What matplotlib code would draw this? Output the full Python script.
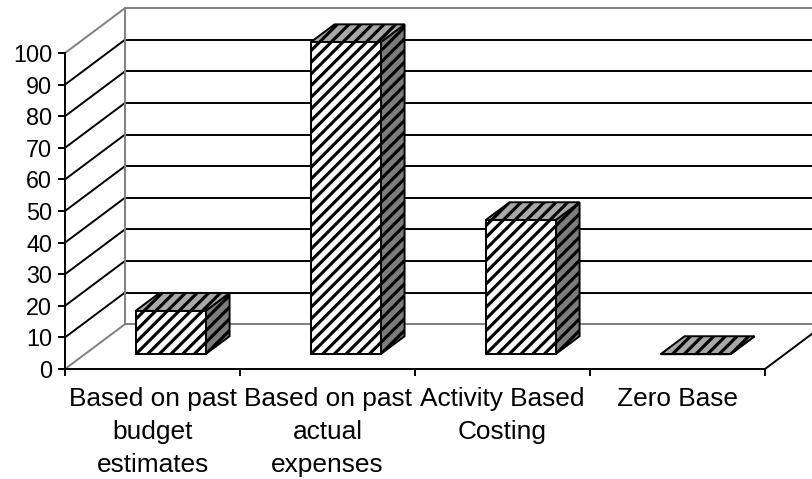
import matplotlib
matplotlib.use("Agg")
import matplotlib.pyplot as plt
from matplotlib.patches import Polygon

plt.rcParams['font.family'] = ['Liberation Sans', 'DejaVu Sans']
plt.rcParams['hatch.linewidth'] = 1.6

categories = [
    "Based on past\nbudget\nestimates",
    "Based on past\nactual\nexpenses",
    "Activity Based\nCosting",
    "Zero Base",
]
values = [13.7, 98.7, 42.4, 0]
y_ticks = list(range(0, 101, 10))

DPI = 140
fig = plt.figure(figsize=(812 / DPI, 479 / DPI), dpi=DPI)
ax = fig.add_axes([65 / 812, 110 / 479, 700 / 812, 316 / 479])
ax.set_xlim(0, len(categories))
ax.set_ylim(0, 100)
ax.set_facecolor('none')

# oblique depth vector (data units) for the pseudo-3D walls and columns
DX, DY = 0.343, 14.2


def shift(x, y, d):
    return (x + d * DX, y + d * DY)


GRAY = '#808080'
LW = 1.0
n = len(categories)

# side wall and back wall gridlines
for v in y_ticks:
    c = GRAY if v in (0, 100) else 'black'
    ax.plot([0, DX], [v, v + DY], color=c, lw=LW, clip_on=False, zorder=1,
            solid_capstyle='butt')
    ax.plot([DX, n + DX], [v + DY, v + DY], color=c, lw=LW, clip_on=False,
            zorder=1, solid_capstyle='butt')
ax.plot([DX, DX], [DY, 100 + DY], color=GRAY, lw=LW, clip_on=False, zorder=1)
ax.plot([n, n + DX], [0, DY], color='black', lw=LW, clip_on=False, zorder=1)

# columns
D0, D1 = 0.33, 0.73
W = 0.4
FRONT, TOP, SIDE = 'white', '#a8a8a8', '#7c7c7c'
for i, v in enumerate(values):
    x0 = i + 0.29
    x1 = x0 + W
    front = [shift(x0, 0, D0), shift(x1, 0, D0), shift(x1, v, D0), shift(x0, v, D0)]
    top = [shift(x0, v, D0), shift(x1, v, D0), shift(x1, v, D1), shift(x0, v, D1)]
    side = [shift(x1, 0, D0), shift(x1, 0, D1), shift(x1, v, D1), shift(x1, v, D0)]
    for pts, fc in ((side, SIDE), (top, TOP), (front, FRONT)):
        ax.add_patch(Polygon(pts, closed=True, facecolor=fc, edgecolor='black',
                             hatch='////', lw=1.0, clip_on=False, zorder=3))

for s in ('top', 'right'):
    ax.spines[s].set_visible(False)
for s in ('left', 'bottom'):
    ax.spines[s].set_linewidth(LW)
    ax.spines[s].set_color('black')

ax.set_yticks(y_ticks)
ax.tick_params(axis='y', direction='out', length=3.6, width=LW, pad=3,
               labelsize=12)
ax.set_xticks(range(n + 1))
ax.set_xticklabels([])
ax.tick_params(axis='x', which='major', direction='out', length=3.6, width=LW)
ax.set_xticks([i + 0.5 for i in range(n)], minor=True)
ax.set_xticklabels(categories, minor=True)
ax.tick_params(axis='x', which='minor', length=0, pad=9.5, labelsize=13.5)
for lbl in ax.get_xticklabels(minor=True):
    lbl.set_linespacing(1.45)

fig.savefig('out.png', dpi=DPI)
